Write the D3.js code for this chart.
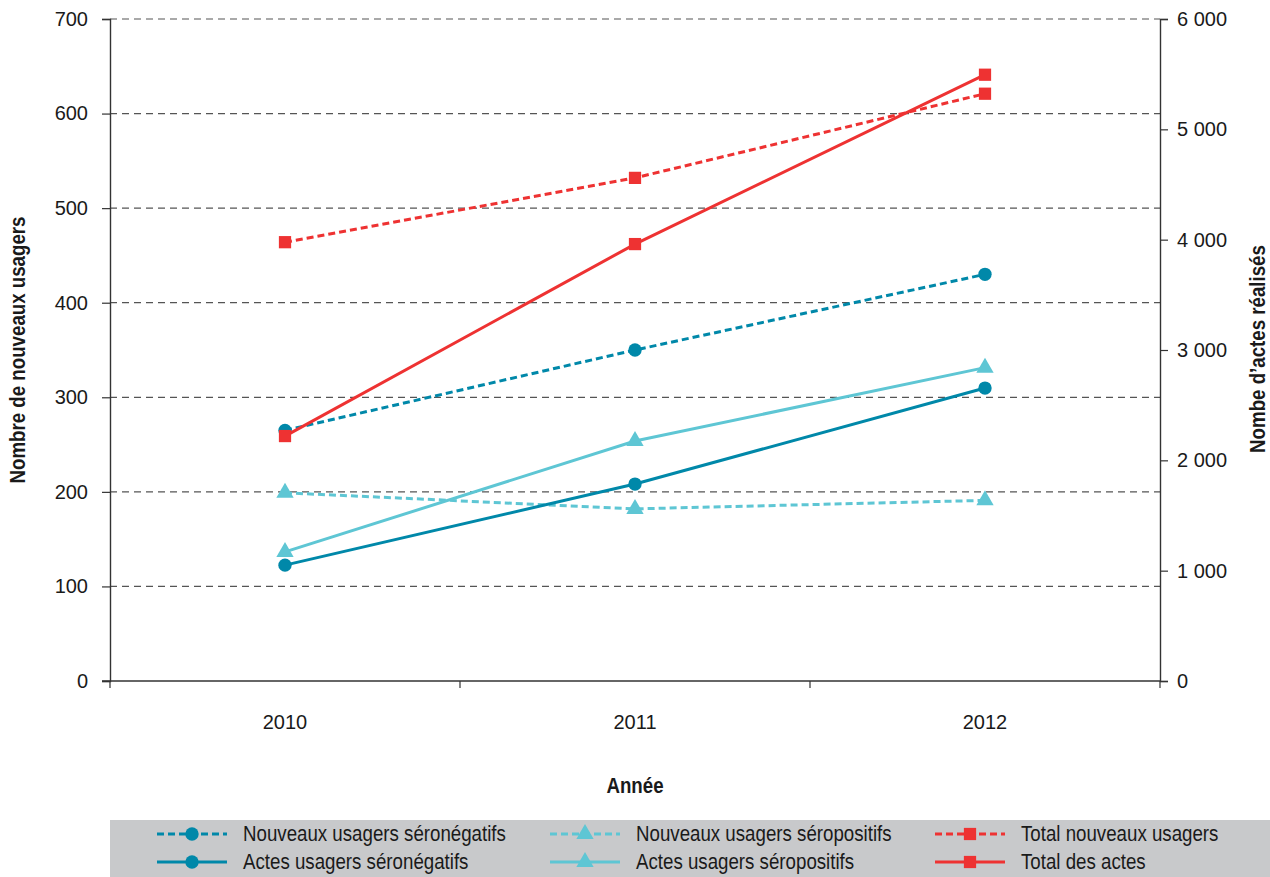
<!DOCTYPE html>
<html>
<head>
<meta charset="utf-8">
<script src="https://cdn.jsdelivr.net/npm/d3@7"></script>
<style>
body { margin: 0; background: #fff; }
text { font-family: "Liberation Sans", Arial, sans-serif; fill: #1a1a1a; }
</style>
</head>
<body>
<script>
// data
var years = ["2010", "2011", "2012"];
var nouvNeg = [265, 350, 430];      // left axis
var nouvPos = [199, 182, 191];
var nouvTotal = [464, 532, 621];
var actesNeg = [1050, 1785, 2655];  // right axis
var actesPos = [1170, 2175, 2840];
var actesTotal = [2220, 3960, 5495];
var leftTicks = [0, 100, 200, 300, 400, 500, 600, 700];
var rightTicks = [0, 1000, 2000, 3000, 4000, 5000, 6000];

var width = 1270, height = 877;
var dark = "#0088a9", light = "#5ec6d4", red = "#ee3232";

var svg = d3.select("body").append("svg")
    .attr("width", width)
    .attr("height", height);

var x = d3.scaleBand().domain(years).range([110, 1160]);
var yL = d3.scaleLinear().domain([0, 700]).range([681, 19]);
var yR = d3.scaleLinear().domain([0, 6000]).range([681, 19]);

// grid
svg.append("g").selectAll("line")
    .data(leftTicks.slice(1))
  .enter().append("line")
    .attr("x1", 110).attr("x2", 1160)
    .attr("y1", function(d){ return yL(d); })
    .attr("y2", function(d){ return yL(d); })
    .style("stroke", "#555")
    .style("stroke-width", 1.2)
    .style("stroke-dasharray", "7,5");

// axes
var axL = svg.append("g").attr("transform", "translate(110,0)")
    .call(d3.axisLeft(yL).tickValues(leftTicks).tickSize(8).tickPadding(14));
var axR = svg.append("g").attr("transform", "translate(1160,0)")
    .call(d3.axisRight(yR).tickValues(rightTicks).tickSize(8).tickPadding(9)
      .tickFormat(function(d){ return d3.format(",")(d).replace(",", " "); }));
var axB = svg.append("g").attr("transform", "translate(0,681)")
    .call(d3.axisBottom(x).tickSize(0).tickPadding(34));
// band edge ticks
svg.append("g").selectAll("line")
    .data([110, 460, 810, 1160])
  .enter().append("line")
    .attr("x1", function(d){ return d; }).attr("x2", function(d){ return d; })
    .attr("y1", 681).attr("y2", 688)
    .style("stroke", "#333").style("stroke-width", 1.2);

[axL, axR, axB].forEach(function(a){
  a.select(".domain").style("stroke", "#333").style("stroke-width", 1.4);
  a.selectAll(".tick line").style("stroke", "#333").style("stroke-width", 1.2);
  a.selectAll("text").style("font-size", "20px").style("font-family", "Liberation Sans, Arial, sans-serif").style("fill", "#1a1a1a");
});
axB.select(".domain").attr("d", "M102,0H1160");

// condensed text helper
function condText(g, tx, ty, rot, str, size, bold, anchor){
  var t = g.append("g")
      .attr("transform", "translate(" + tx + "," + ty + ")" + (rot ? " rotate(" + rot + ")" : "") + " scale(0.85,1)")
    .append("text")
      .attr("text-anchor", anchor || "start")
      .style("font-size", size + "px")
      .style("font-weight", bold ? "bold" : "normal")
      .text(str);
  return t;
}

// axis titles
condText(svg, 25, 350, -90, "Nombre de nouveaux usagers", 22, true, "middle");
condText(svg, 1265, 349, -90, "Nombe d\u2019actes réalisés", 22, true, "middle");
condText(svg, 635, 793, 0, "Année", 22, true, "middle");

var series = [
  { name: "Nouveaux usagers séronégatifs", vals: nouvNeg, y: yL, color: dark, dash: "7,4", shape: d3.symbolCircle },
  { name: "Nouveaux usagers séropositifs", vals: nouvPos, y: yL, color: light, dash: "7,4", shape: d3.symbolTriangle },
  { name: "Total nouveaux usagers", vals: nouvTotal, y: yL, color: red, dash: "7,4", shape: d3.symbolSquare },
  { name: "Actes usagers séronégatifs", vals: actesNeg, y: yR, color: dark, dash: null, shape: d3.symbolCircle },
  { name: "Actes usagers séropositifs", vals: actesPos, y: yR, color: light, dash: null, shape: d3.symbolTriangle },
  { name: "Total des actes", vals: actesTotal, y: yR, color: red, dash: null, shape: d3.symbolSquare }
];
function sym(s){ return d3.symbol().type(s).size(s === d3.symbolSquare ? 150 : s === d3.symbolTriangle ? 130 : 140)(); }

series.forEach(function(s){
  var line = d3.line()
      .x(function(d, i){ return x(years[i]) + x.bandwidth() / 2; })
      .y(function(d){ return s.y(d); });
  svg.append("path")
      .attr("d", line(s.vals))
      .style("fill", "none")
      .style("stroke", s.color)
      .style("stroke-width", 3)
      .style("stroke-dasharray", s.dash);
  svg.append("g").selectAll("path")
      .data(s.vals)
    .enter().append("path")
      .attr("d", sym(s.shape))
      .attr("transform", function(d, i){
        return "translate(" + (x(years[i]) + x.bandwidth() / 2) + "," + s.y(d) + ")"; })
      .style("fill", s.color);
});

// legend
var leg = svg.append("g");
leg.append("rect").attr("x", 110).attr("y", 820).attr("width", 1160).attr("height", 57)
    .style("fill", "#c8c9cb");
var cols = [157, 550, 935];
series.forEach(function(s, j){
  var cx = cols[j % 3], cy = j < 3 ? 834 : 862;
  leg.append("line")
      .attr("x1", cx).attr("x2", cx + 70)
      .attr("y1", cy).attr("y2", cy)
      .style("stroke", s.color).style("stroke-width", 3)
      .style("stroke-dasharray", s.dash);
  leg.append("path").attr("d", sym(s.shape))
      .attr("transform", "translate(" + (cx + 35) + "," + cy + ")")
      .style("fill", s.color);
  condText(leg, cx + 86, cy + 7, 0, s.name, 22, false, "start");
});
</script>
</body>
</html>
